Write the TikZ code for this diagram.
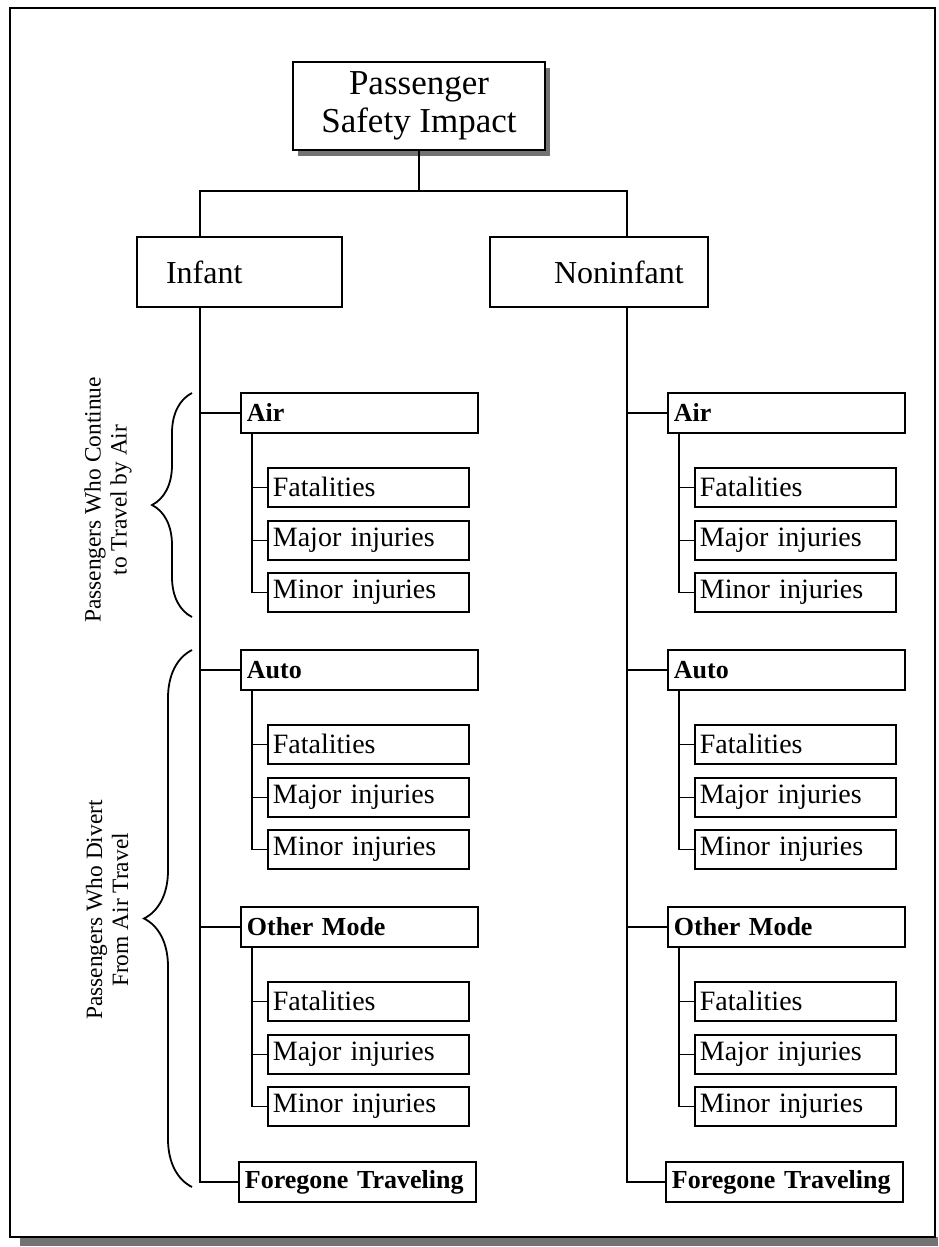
\documentclass[tikz,border=0pt]{standalone}
\usepackage{fontspec}
\setmainfont{Liberation Serif}
\usetikzlibrary{positioning,shadows,decorations.pathreplacing,calc}

\begin{document}
\begin{tikzpicture}[
  x=0.5pt, y=-0.5pt,
  box/.style={rectangle, draw=black, line width=0.9pt, inner sep=0pt, fill=white},
  topbox/.style={box, minimum width=126pt, minimum height=44pt, align=center,
                 font=\fontsize{17.5}{19}\selectfont,
                 drop shadow={shadow xshift=2.5pt, shadow yshift=-3pt, fill=black!55, opacity=1}},
  catbox/.style={box, minimum height=35pt, align=left, font=\fontsize{16}{18}\selectfont},
  mode/.style={box, text width=112.5pt, minimum height=20pt, inner xsep=3pt, align=left,
               font=\fontsize{13}{15}\selectfont\bfseries},
  item/.style={box, text width=95.5pt, minimum height=19.5pt, inner xsep=2.5pt, align=left,
               font=\fontsize{14}{16}\selectfont},
  conn/.style={line width=0.9pt},
  brc/.style={line width=0.9pt, decorate, decoration={brace, amplitude=20pt}},
  side/.style={rotate=90, align=center, font=\fontsize{11.7}{13}\selectfont},
]
\useasboundingbox (0,0) rectangle (938,1247);

% ---------- page frame
\fill[black!55] (20,1237) rectangle (938,1246);
\draw[line width=1.1pt] (10,8) rectangle (935,1237);

% ---------- root and the two passenger classes
\node[topbox] (psi) at (419,106) {Passenger\\Safety Impact};
\node[catbox, text width=102.5pt] (inf) at (239.5,272) {\hspace*{14.5pt}Infant};
\node[catbox, text width=109pt]   (non) at (599,272)   {\hspace*{32pt}Noninfant};

% ---------- modes and their outcomes, one column per class
\foreach \col/\x in {i/240, n/667} {
  \foreach \grp/\txt/\y in {air/Air/392, auto/Auto/649, oth/Other Mode/906} {
    \node[mode, anchor=north west] (\col\grp) at (\x,\y) {\txt};
    \node[item, anchor=north west] (\col\grp f) at (\x+27,\y+75)  {Fatalities};
    \node[item, anchor=north west] (\col\grp j) at (\x+27,\y+128) {Major injuries};
    \node[item, anchor=north west] (\col\grp m) at (\x+27,\y+180) {Minor injuries};
    \coordinate (\col\grp s) at ([xshift=6pt]\col\grp.south west);
    \draw[conn] (\col\grp s) |- (\col\grp m.west);
    \draw[conn] (\col\grp f.west) -- (\col\grp f.west -| \col\grp s);
    \draw[conn] (\col\grp j.west) -- (\col\grp j.west -| \col\grp s);
  }
  \node[mode, anchor=north west] (\col fore) at (\x-2,1161) {Foregone Traveling};
}

% ---------- trunks
\path (inf.south -| iair.west) ++(-40,0) coordinate (it);
\path (non.south -| nair.west) ++(-40,0) coordinate (nt);
\coordinate (hb) at ([yshift=-20pt]psi.south);
\draw[conn] (psi.south) -- (hb);
\draw[conn] (inf.north -| it) |- (hb) -| (non.north -| nt);
\foreach \col in {i,n} {
  \draw[conn] (\col t) |- (\col fore.west);
  \foreach \grp in {air,auto,oth}
    \draw[conn] (\col\grp.west) -- (\col\grp.west -| \col t);
}

% ---------- braces on the infant side
\draw[brc] (192,617) -- (192,393);
\draw[brc, decoration={amplitude=24pt}] (192,1187) -- (192,650);
\node[side] (cont) at (108,500) {Passengers Who Continue\\to Travel by Air};
\node[side] (div)  at (107,910) {Passengers Who Divert\\From Air Travel};
\end{tikzpicture}
\end{document}
